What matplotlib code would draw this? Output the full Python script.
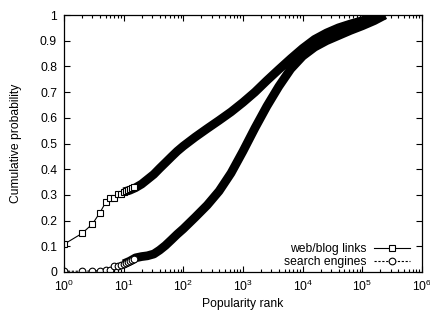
import matplotlib
matplotlib.use("Agg")
import matplotlib.pyplot as plt
from matplotlib.ticker import LogLocator

plt.rcParams['font.family'] = ['Liberation Sans', 'DejaVu Sans']
plt.rcParams['mathtext.fontset'] = 'custom'
plt.rcParams['mathtext.rm'] = 'Liberation Sans'
plt.rcParams['mathtext.it'] = 'Liberation Sans:italic'
FS = 8.7

# --- data: web/blog links (individual low-rank points + dense curve) ---
web_rank_pts = [1, 2, 3, 4, 5, 6, 7, 8, 9, 10, 11, 12, 13, 14, 15]
web_cdf_pts = [0.108, 0.150, 0.187, 0.231, 0.271, 0.289, 0.289, 0.302, 0.305, 0.312,
               0.314, 0.318, 0.322, 0.326, 0.330]
web_rank_curve = [10, 12.6, 15.8, 20, 25, 32, 40, 50, 63, 79, 100, 158, 251, 398, 631,
                  1000, 1585, 2512, 3981, 6310, 10000, 15849, 25119, 39811, 63096,
                  100000, 158489, 240000]
web_cdf_curve = [0.312, 0.318, 0.328, 0.342, 0.360, 0.380, 0.403, 0.425, 0.448, 0.470,
                 0.490, 0.525, 0.558, 0.590, 0.623, 0.660, 0.700, 0.745, 0.788, 0.830,
                 0.870, 0.905, 0.930, 0.950, 0.965, 0.978, 0.990, 1.0]

# --- data: search engines ---
se_rank_pts = [1, 2, 3, 4, 5, 6, 7, 8, 9, 10, 11, 12, 13, 14, 15]
se_cdf_pts = [0.003, 0.003, 0.004, 0.005, 0.006, 0.008, 0.022, 0.025, 0.028, 0.032,
              0.036, 0.040, 0.044, 0.047, 0.050]
se_rank_curve = [10, 12.6, 15.8, 20, 25, 32, 40, 50, 63, 79, 100, 158, 251, 398, 631,
                 1000, 1585, 2512, 3981, 6310, 10000, 15849, 25119, 39811, 63096,
                 100000, 158489, 240000]
se_cdf_curve = [0.032, 0.042, 0.055, 0.060, 0.063, 0.070, 0.085, 0.103, 0.125, 0.147,
                0.168, 0.213, 0.260, 0.315, 0.385, 0.470, 0.560, 0.645, 0.722, 0.790,
                0.840, 0.875, 0.900, 0.920, 0.940, 0.958, 0.978, 1.0]

y_ticks = [0, 0.1, 0.2, 0.3, 0.4, 0.5, 0.6, 0.7, 0.8, 0.9, 1]
y_tick_labels = ['0', '0.1', '0.2', '0.3', '0.4', '0.5', '0.6', '0.7', '0.8', '0.9', '1']

fig = plt.figure(figsize=(4.3, 3.11), dpi=100)
ax = fig.add_axes([64/430, 1 - 272/311, (422-64)/430, (272-15)/311])

BAND = 6.3
MS = 4.8

# dense bands
ax.plot(web_rank_curve, web_cdf_curve, color='black', lw=BAND, solid_capstyle='butt',
        solid_joinstyle='round')
ax.plot(se_rank_curve, se_cdf_curve, color='black', lw=BAND, solid_capstyle='butt',
        solid_joinstyle='round')

# individual markers
web_line, = ax.plot(web_rank_pts, web_cdf_pts, color='black', lw=0.8, ls='-',
                    marker='s', ms=MS, mfc='white', mec='black', mew=0.8,
                    label='web/blog links')
se_line, = ax.plot(se_rank_pts, se_cdf_pts, color='black', lw=0.8, ls=(0, (2, 1.5)),
                   marker='o', ms=MS, mfc='white', mec='black', mew=0.8,
                   label='search engines')

ax.set_xscale('log')
ax.set_xlim(1, 1e6)
ax.set_ylim(0, 1)
ax.set_yticks(y_ticks)
ax.set_yticklabels(y_tick_labels)
ax.xaxis.set_major_locator(LogLocator(base=10, numticks=10))
ax.xaxis.set_minor_locator(LogLocator(base=10, subs=range(2, 10), numticks=100))

ax.tick_params(which='both', direction='in', top=True, right=True, labelsize=FS,
               width=0.8, color='black')
ax.tick_params(which='major', length=4.5, pad=5)
ax.tick_params(which='minor', length=2.5)
for s in ax.spines.values():
    s.set_linewidth(0.9)

ax.set_xlabel('Popularity rank', fontsize=FS, labelpad=3)
ax.set_ylabel('Cumulative probability', fontsize=FS, labelpad=13)

leg = ax.legend(handles=[web_line, se_line], loc='lower right', markerfirst=False,
                frameon=False, fontsize=FS, handlelength=3.0, handletextpad=0.6,
                labelspacing=0.05, borderpad=0, borderaxespad=0,
                bbox_to_anchor=((410-64)/358, 4/257))

fig.savefig('out.png', dpi=100)
